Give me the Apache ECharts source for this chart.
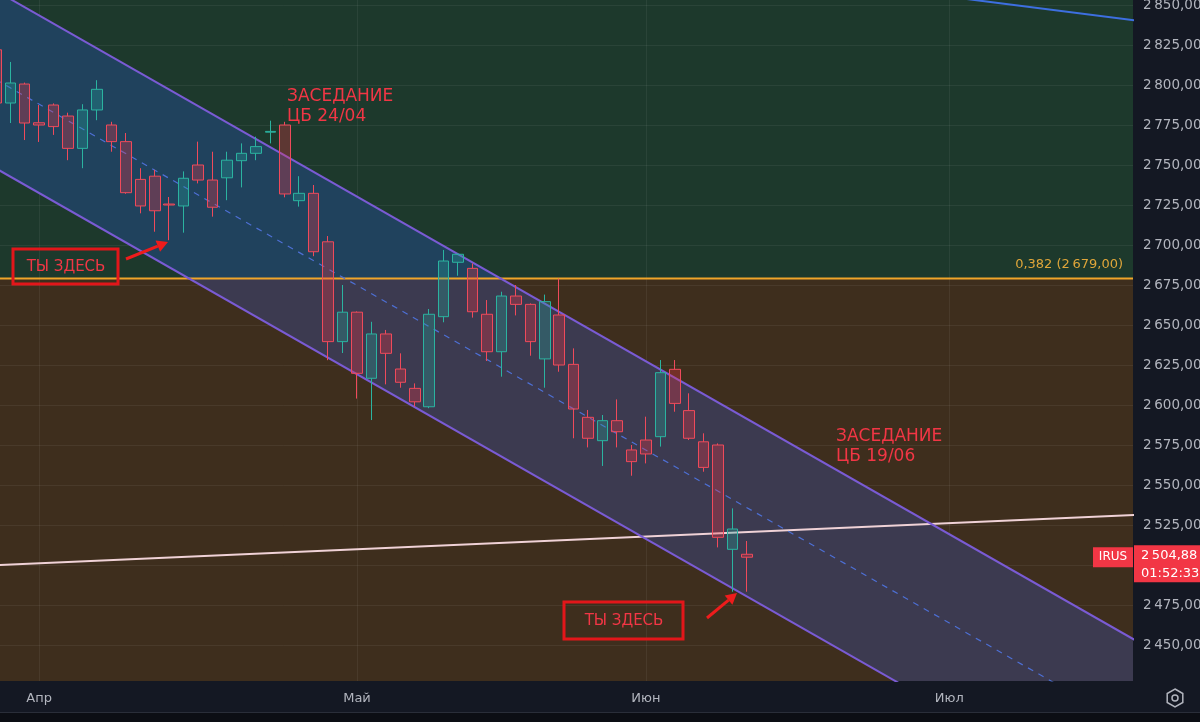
<!DOCTYPE html>
<html><head><meta charset="utf-8">
<script src="https://cdn.jsdelivr.net/npm/echarts@6/dist/echarts.min.js"></script>
<style>html,body{margin:0;padding:0;background:#141823;}#c{width:1200px;height:722px;}</style>
</head><body><div id="c"></div>
<script>
// ---------- DATA ----------
const candleIndex = [0,1,2,3,4,5,6,7,8,9,10,11,12,13,14,15,16,17,18,19,20,21,22,23,24,25,26,27,28,29,30,31,32,33,34,35,36,37,38,39,40,41,42,43,44,45,46,47,48,49,50,51,52];
const opens  = [2822,2788.75,2800.6,2776.4,2787.5,2780.6,2760.4,2784.4,2775,2764.6,2741,2743,2725.6,2724.4,2750,2740.6,2742,2752.7,2757.3,2770.5,2775,2727.7,2732.3,2702,2639.6,2658,2616.7,2644.4,2622.5,2610.4,2598.9,2655.2,2689.2,2685.4,2656.7,2633.3,2668.1,2662.9,2628.8,2656.25,2625.4,2592.3,2577.7,2590.2,2571.9,2578.1,2580.2,2622.3,2596.5,2577,2575,2509.8,2506.7];
const closes = [2788.75,2801.25,2776.25,2775,2774,2760.4,2784.4,2797.3,2764.6,2732.7,2724.4,2721.4,2725,2741.7,2740.6,2723.6,2753,2757.3,2761.5,2771,2731.9,2732.3,2695.8,2639.6,2658,2619.8,2644.4,2632.3,2614.2,2602,2656.7,2690,2694.2,2658.3,2633.3,2668.1,2662.9,2639.6,2664.6,2625,2597.5,2579.2,2590.2,2583.3,2564.6,2569.4,2620.2,2601,2579.2,2561,2517.3,2522.5,2504.88];
const lows   = [2786,2776.25,2765.6,2764.4,2768.8,2753,2748,2778,2758.3,2732,2719.8,2708.3,2703,2707.7,2738.5,2717.7,2728,2736,2753,2763.5,2729.8,2724,2693,2628,2632.5,2604,2590.6,2612.9,2610.8,2599,2598,2651.7,2680.8,2654.6,2627.5,2617.7,2656,2630.8,2610.8,2620.8,2579.2,2573.5,2561.9,2573.5,2555.8,2563.5,2574,2595.8,2578.1,2558.3,2511,2483.3,2483.3];
const highs  = [2824,2814.4,2801.5,2787.5,2788.5,2782.7,2788,2803,2777,2770,2748,2747,2730,2746,2764.6,2758.3,2758.3,2763.5,2767.7,2777.7,2777,2743,2737.5,2705.6,2675,2658.5,2652,2646.9,2632.3,2613.5,2660,2696.9,2694.6,2688.5,2665.6,2670.8,2675,2663.5,2669,2679,2635.4,2596.9,2593.75,2603.5,2575,2592.7,2628.1,2628.1,2607.3,2582.3,2576,2535.4,2515];
const monthTickIndex = [3,25,45,66];
const monthNames = ['Апр','Май','Июн','Июл'];
const priceTicks = [2450,2475,2500,2525,2550,2575,2600,2625,2650,2675,2700,2725,2750,2775,2800,2825,2850];
const channelUpper = [[0,2858.9],[80,2447.2]];
const channelLower = [[0,2747.9],[80,2336.2]];
const channelMid   = [[0,2803.4],[80,2391.7]];
const trendPink = [[0,2499.9],[80,2531.8]];
const trendBlue = [[60,2862.0],[80,2839.1]];
const fibLevel = 2679;
const fibRatio = '0,382';
const lastPrice = 2504.88;
const ticker = 'IRUS';
const countdown = '01:52:33';
const noteTexts = ['ЗАСЕДАНИЕ\nЦБ 24/04','ЗАСЕДАНИЕ\nЦБ 19/06'];
const youHere = 'ТЫ ЗДЕСЬ';

// ---------- VIEW ----------
const xMin = 0.2873, xMax = 78.72, yMin = 2427.5, yMax = 2853.125;
const zoneFill = ['#1d392c','#3e2e1d'];
const channelFill = ['#20425d','#3c3a50'];
const RED = '#f23645';
const FONT = 'DejaVu Sans';

function fmtPrice(v){
  const s = v.toFixed(2).replace('.', ',');
  return s.replace(/^(\d)(\d{3})/, '$1\u2009$2');
}
function clipEdge(pts, inside, level){
  const res = [];
  for (let i = 0; i < pts.length; i++){
    const a = pts[i], b = pts[(i+1) % pts.length];
    const ai = inside(a), bi = inside(b);
    if (ai) res.push(a);
    if (ai !== bi){ const t = (level - a[1])/(b[1]-a[1]); res.push([a[0]+t*(b[0]-a[0]), level]); }
  }
  return res;
}
const zoneData = [[fibLevel, yMax],[yMin, fibLevel]];
const channelPoly = [channelUpper[0], channelUpper[1], channelLower[1], channelLower[0]];

const chart = echarts.init(document.getElementById('c'), null, {renderer:'canvas'});
const option = {
  animation: false,
  backgroundColor: '#141823',
  grid: {left: 0, right: 67, top: 0, bottom: 41, containLabel: false, outerBoundsMode: 'none'},
  xAxis: {
    type: 'value', min: xMin, max: xMax, z: 1,
    axisLine: {show: false},
    axisTick: {show: false, customValues: monthTickIndex},
    axisLabel: {customValues: monthTickIndex, color: '#b2b5be', fontSize: 13, fontFamily: FONT, margin: 11,
      formatter: v => { const k = monthTickIndex.indexOf(Math.round(v)); return k >= 0 ? monthNames[k] : ''; }},
    splitLine: {show: true, lineStyle: {color: 'rgba(255,255,255,0.06)', width: 1}}
  },
  yAxis: {
    type: 'value', position: 'right', min: yMin, max: yMax, z: 1, scale: true,
    axisLine: {show: false},
    axisTick: {show: false, customValues: priceTicks},
    axisLabel: {customValues: priceTicks, color: '#b2b5be', fontSize: 13.5, fontFamily: FONT, margin: 10, formatter: v => fmtPrice(v)},
    splitLine: {show: true, lineStyle: {color: 'rgba(255,255,255,0.06)', width: 1}}
  },
  series: [
    {type: 'custom', name: 'zones', z: 0, silent: true, clip: true, data: zoneData,
      renderItem(params, api){
        const lo = api.value(0), hi = api.value(1);
        const p1 = api.coord([xMin, hi]), p2 = api.coord([xMax, lo]);
        return {type: 'rect', shape: {x: p1[0], y: p1[1], width: p2[0]-p1[0], height: p2[1]-p1[1]}, style: {fill: zoneFill[params.dataIndex]}};
      }},
    {type: 'custom', name: 'channelFill', z: 2, silent: true, clip: true, data: zoneData,
      renderItem(params, api){
        const lo = api.value(0), hi = api.value(1);
        let pts = clipEdge(channelPoly, p => p[1] >= lo, lo);
        pts = clipEdge(pts, p => p[1] <= hi, hi);
        return {type: 'polygon', shape: {points: pts.map(p => api.coord(p))}, style: {fill: channelFill[params.dataIndex]}};
      }},
    {type: 'line', name: 'fib', z: 3, data: [[xMin, fibLevel],[xMax, fibLevel]], symbol: 'none', silent: true,
      lineStyle: {color: '#f0a52a', width: 2}},
    {type: 'line', name: 'pink', z: 3, data: trendPink, symbol: 'none', silent: true,
      lineStyle: {color: '#f0d2d7', width: 2}},
    {type: 'line', name: 'blue', z: 3, data: trendBlue, symbol: 'none', silent: true,
      lineStyle: {color: '#3d6fe0', width: 2}},
    {type: 'line', name: 'upper', z: 3, data: channelUpper, symbol: 'none', silent: true,
      lineStyle: {color: '#7a5bd4', width: 2}},
    {type: 'line', name: 'lower', z: 3, data: channelLower, symbol: 'none', silent: true,
      lineStyle: {color: '#7a5bd4', width: 2}},
    {type: 'line', name: 'mid', z: 3, data: channelMid, symbol: 'none', silent: true,
      lineStyle: {color: '#4d6fd4', width: 1.2, type: [6,6]}},
    {type: 'candlestick', name: ticker, z: 5, barWidth: 11,
      data: candleIndex.map(i => [i, opens[i], closes[i], lows[i], highs[i]]),
      itemStyle: {color: 'rgba(38,166,154,0.3)', color0: 'rgba(242,54,69,0.3)', borderColor: '#2bb3a0', borderColor0: '#ef4a5b', borderWidth: 1}}
  ]
};
chart.setOption(option);

function px(x, v){ return chart.convertToPixel({gridIndex: 0}, [x, v]); }
function arrow(x1, y1, x2, y2){
  const ang = Math.atan2(y2-y1, x2-x1), L = 11, W = 6;
  const bx = x2 - L*Math.cos(ang), by = y2 - L*Math.sin(ang);
  const nx = -Math.sin(ang), ny = Math.cos(ang);
  return [
    {type: 'line', z: 100, shape: {x1, y1, x2: bx, y2: by}, style: {stroke: '#ee1c1c', lineWidth: 3}},
    {type: 'polygon', z: 100, shape: {points: [[x2,y2],[bx+nx*W, by+ny*W],[bx-nx*W, by-ny*W]]}, style: {fill: '#ee1c1c'}}
  ];
}
const fibPt = px(xMax, fibLevel);
const pricePt = px(xMax, lastPrice);
const py = pricePt[1];
const g = [
  {type: 'text', z: 100, style: {text: fibRatio + ' (' + fmtPrice(fibLevel) + ')', x: fibPt[0]-10, y: fibPt[1]-14, align: 'right', verticalAlign: 'middle', fill: '#e0a63a', font: '13px ' + FONT}},
  {type: 'text', z: 100, style: {text: noteTexts[0], x: 287, y: 87, fill: RED, font: '17px ' + FONT, lineHeight: 20}},
  {type: 'text', z: 100, style: {text: noteTexts[1], x: 836, y: 427, fill: RED, font: '17px ' + FONT, lineHeight: 20}},
  {type: 'rect', z: 100, shape: {x: 13, y: 249, width: 105, height: 35}, style: {fill: 'none', stroke: '#e3161a', lineWidth: 3}},
  {type: 'text', z: 100, style: {text: youHere, x: 66, y: 267, align: 'center', verticalAlign: 'middle', fill: RED, font: '15px ' + FONT}},
  {type: 'rect', z: 100, shape: {x: 564, y: 602, width: 119, height: 37}, style: {fill: 'none', stroke: '#e3161a', lineWidth: 3}},
  {type: 'text', z: 100, style: {text: youHere, x: 624, y: 621, align: 'center', verticalAlign: 'middle', fill: RED, font: '15px ' + FONT}},
  ...arrow(126, 259, 168, 242),
  ...arrow(707, 618, 737, 593),
  {type: 'rect', z: 100, shape: {x: 1093, y: py-10, width: 40, height: 20}, style: {fill: RED}},
  {type: 'text', z: 101, style: {text: ticker, x: 1113, y: py, align: 'center', verticalAlign: 'middle', fill: '#ffffff', font: '12px ' + FONT}},
  {type: 'rect', z: 100, shape: {x: 1134, y: py-12, width: 66, height: 37}, style: {fill: RED}},
  {type: 'text', z: 101, style: {text: fmtPrice(lastPrice), x: 1141, y: py-2, verticalAlign: 'middle', fill: '#ffffff', font: '13px ' + FONT}},
  {type: 'text', z: 101, style: {text: countdown, x: 1141, y: py+16, verticalAlign: 'middle', fill: '#ffffff', font: '13px ' + FONT}},
  {type: 'polygon', z: 100, shape: {points: [[1175,689],[1182.8,693.5],[1182.8,702.5],[1175,707],[1167.2,702.5],[1167.2,693.5]]}, style: {fill: 'none', stroke: '#b2b5be', lineWidth: 1.5}},
  {type: 'circle', z: 100, shape: {cx: 1175, cy: 698, r: 3}, style: {fill: 'none', stroke: '#b2b5be', lineWidth: 1.5}},
  {type: 'rect', z: 100, shape: {x: 0, y: 712, width: 1200, height: 10}, style: {fill: '#0c0e14'}},
  {type: 'line', z: 100, shape: {x1: 0, y1: 712.5, x2: 1200, y2: 712.5}, style: {stroke: '#2a2e39', lineWidth: 1}}
];
chart.setOption({graphic: g});
</script></body></html>
